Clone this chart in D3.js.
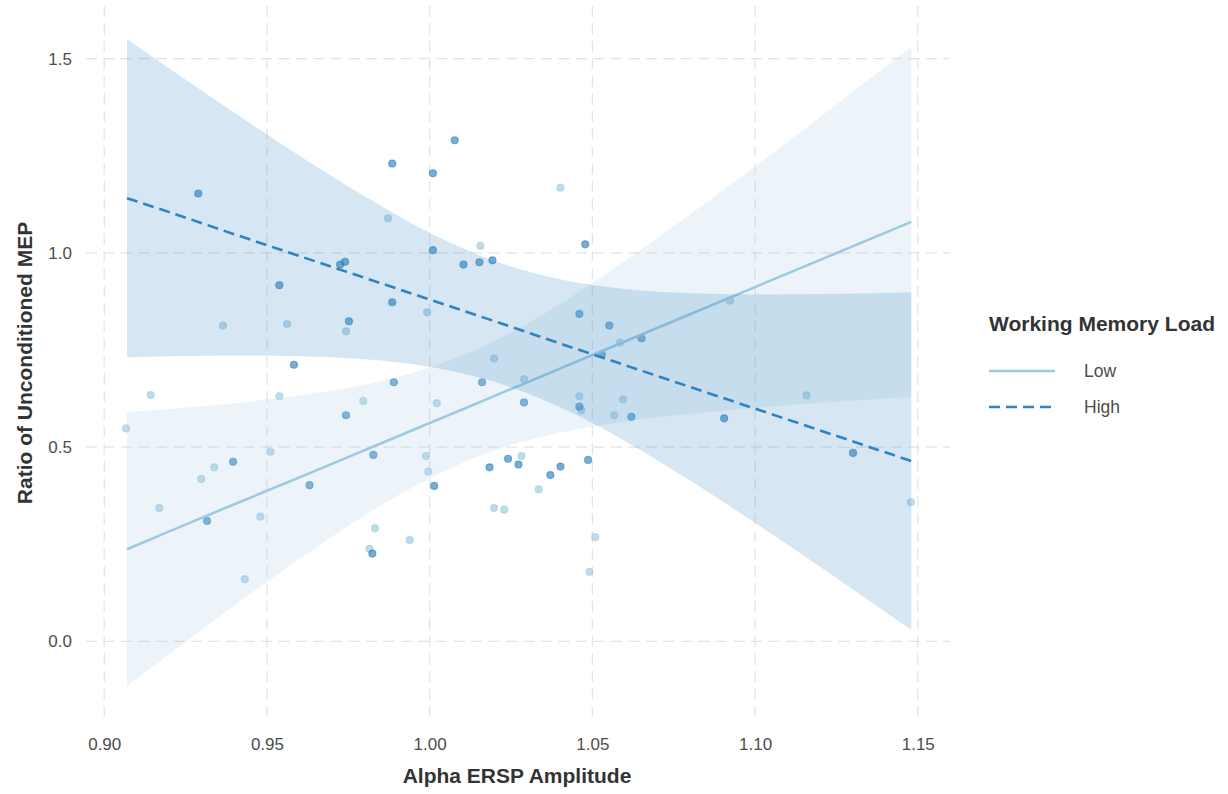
<!DOCTYPE html>
<html>
<head>
<meta charset="utf-8">
<script src="https://cdn.jsdelivr.net/npm/d3@7"></script>
<style>
  html, body { margin: 0; padding: 0; background: #fff; }
  svg { display: block; font-family: "Liberation Sans", Arial, sans-serif; }
</style>
</head>
<body>
<svg id="chart" width="1228" height="794"></svg>
<script>
// ---- data ----
const xTicks = [0.90, 0.95, 1.00, 1.05, 1.10, 1.15];
const yTicks = [0.0, 0.5, 1.0, 1.5];
const groups = ["Low", "High"];

const highX = [0.9289,0.9885,1.0010,1.0010,0.9740,0.9725,0.9538,0.9885,0.9752,0.9583,0.9890,0.9743,0.9827,0.9396,1.0014,0.9631,0.9316,0.9824,1.0077,1.0478,1.0104,1.0153,1.0193,1.0460,1.0552,1.0651,1.0529,1.0161,1.0290,1.0460,1.0620,1.0184,1.0241,1.0273,1.0371,1.0402,1.0487,1.0905,1.1301];
const highY = [1.153,1.230,1.205,1.007,0.977,0.970,0.917,0.873,0.824,0.712,0.667,0.582,0.480,0.462,0.400,0.402,0.310,0.226,1.290,1.022,0.970,0.976,0.981,0.843,0.813,0.780,0.739,0.667,0.615,0.604,0.578,0.448,0.470,0.455,0.428,0.450,0.467,0.574,0.485];

const lowX = [0.9872,0.9992,0.9365,0.9562,0.9743,0.9143,0.9067,0.9538,0.9796,1.0022,0.9511,0.9989,0.9338,0.9298,0.9996,0.9169,0.9480,0.9832,0.9939,0.9815,0.9432,1.0402,1.0156,1.0585,1.0198,1.0923,1.0290,1.0460,1.0466,1.0567,1.0594,1.0282,1.0335,1.0198,1.0229,1.0509,1.0491,1.1158,1.1479];
const lowY = [1.089,0.847,0.813,0.817,0.798,0.634,0.548,0.631,0.619,0.613,0.488,0.477,0.448,0.418,0.437,0.343,0.321,0.291,0.261,0.238,0.160,1.168,1.018,0.769,0.728,0.877,0.675,0.631,0.595,0.582,0.623,0.477,0.391,0.343,0.339,0.268,0.179,0.633,0.358];

// fitted lines and confidence bands, read at these x positions
const bandX     = [0.907,0.92,0.94,0.96,0.98,1.00,1.02,1.04,1.06,1.08,1.10,1.12,1.148];
const highFit   = [1.141,1.105,1.048,0.992,0.936,0.880,0.824,0.767,0.711,0.655,0.599,0.543,0.464];
const highUpper = [1.551,1.475,1.361,1.250,1.146,1.052,0.979,0.932,0.907,0.896,0.893,0.894,0.899];
const highLower = [0.731,0.734,0.736,0.734,0.726,0.707,0.668,0.603,0.516,0.414,0.305,0.192,0.029];
const lowFit    = [0.237,0.283,0.353,0.422,0.492,0.562,0.632,0.702,0.772,0.842,0.912,0.982,1.080];
const lowUpper  = [0.590,0.598,0.613,0.633,0.661,0.704,0.773,0.868,0.979,1.099,1.223,1.350,1.531];
const lowLower  = [-0.116,-0.033,0.092,0.212,0.324,0.420,0.492,0.537,0.566,0.586,0.601,0.614,0.629];

// ---- drawing ----
const colors = { Low: "#9ecae1", High: "#3182bd" };
const svg = d3.select("#chart");

const x = d3.scaleLinear().domain([0.8944, 1.1599]).range([86, 950]);
const y = d3.scaleLinear().domain([-0.2026, 1.6357]).range([720, 6]);

const grid = svg.append("g").attr("stroke", "#e3e3e3").attr("stroke-width", 1.2)
  .attr("stroke-dasharray", "11,6.5").attr("fill", "none");
grid.selectAll("line.h").data(yTicks).join("line")
  .attr("x1", x.range()[0]).attr("x2", x.range()[1])
  .attr("y1", d => y(d)).attr("y2", d => y(d));
grid.selectAll("line.v").data(xTicks).join("line")
  .attr("x1", d => x(d)).attr("x2", d => x(d))
  .attr("y1", y.range()[1]).attr("y2", y.range()[0]);

// axes (text only, like theme_minimal)
const xAxis = d3.axisBottom(x).tickValues(xTicks).tickFormat(d3.format(".2f")).tickSize(0).tickPadding(0);
const gx = svg.append("g").attr("transform", "translate(0,738)").call(xAxis);
gx.select(".domain").remove();
gx.selectAll("text").attr("font-size", 17).attr("fill", "#4d4d4d")
  .attr("font-family", "Liberation Sans, Arial, sans-serif").attr("dy", "0.71em");

const yAxis = d3.axisLeft(y).tickValues(yTicks).tickFormat(d3.format(".1f")).tickSize(0).tickPadding(0);
const gy = svg.append("g").attr("transform", "translate(72,0)").call(yAxis);
gy.select(".domain").remove();
gy.selectAll("text").attr("font-size", 17).attr("fill", "#4d4d4d")
  .attr("font-family", "Liberation Sans, Arial, sans-serif");

// points
const pts = [
  { g: "Low", xs: lowX, ys: lowY },
  { g: "High", xs: highX, ys: highY }
];
pts.forEach(p => {
  svg.append("g").selectAll("circle").data(p.xs.map((v, i) => [v, p.ys[i]])).join("circle")
    .attr("cx", d => x(d[0])).attr("cy", d => y(d[1])).attr("r", 3.5)
    .attr("fill", colors[p.g]).attr("fill-opacity", 0.65)
    .attr("stroke", colors[p.g]).attr("stroke-opacity", 0.6).attr("stroke-width", 1.2);
});

// smooths
const bands = {
  Low: { fit: lowFit, up: lowUpper, lo: lowLower },
  High: { fit: highFit, up: highUpper, lo: highLower }
};
const area = d3.area().x(d => x(d.x)).y0(d => y(d.lo)).y1(d => y(d.up)).curve(d3.curveMonotoneX);
const line = d3.line().x(d => x(d.x)).y(d => y(d.fit)).curve(d3.curveMonotoneX);
groups.forEach(g => {
  const b = bands[g];
  const rows = bandX.map((v, i) => ({ x: v, fit: b.fit[i], up: b.up[i], lo: b.lo[i] }));
  svg.append("path").datum(rows).attr("d", area).attr("fill", colors[g]).attr("fill-opacity", 0.2);
  svg.append("path").datum(rows).attr("d", line).attr("fill", "none")
    .attr("stroke", colors[g]).attr("stroke-width", 2.6)
    .attr("stroke-dasharray", g === "High" ? "11,6" : null);
});

// axis titles
svg.append("text").attr("x", 517).attr("y", 783).attr("text-anchor", "middle")
  .attr("font-size", 21).attr("font-weight", "bold").attr("fill", "#333")
  .text("Alpha ERSP Amplitude");
svg.append("text").attr("transform", "translate(32,363) rotate(-90)").attr("text-anchor", "middle")
  .attr("font-size", 21).attr("font-weight", "bold").attr("fill", "#333")
  .text("Ratio of Unconditioned MEP");

// legend
const lg = svg.append("g");
lg.append("text").attr("x", 989).attr("y", 331).attr("font-size", 21).attr("font-weight", "bold")
  .attr("fill", "#333").text("Working Memory Load");
groups.forEach((g, i) => {
  const yy = 371 + i * 36;
  lg.append("line").attr("x1", 989).attr("x2", 1055).attr("y1", yy).attr("y2", yy)
    .attr("stroke", colors[g]).attr("stroke-width", 2.6)
    .attr("stroke-dasharray", g === "High" ? "11,6" : null);
  lg.append("text").attr("x", 1084).attr("y", yy).attr("dy", "0.35em").attr("font-size", 17.5)
    .attr("fill", "#4d4d4d").text(g);
});
</script>
</body>
</html>
